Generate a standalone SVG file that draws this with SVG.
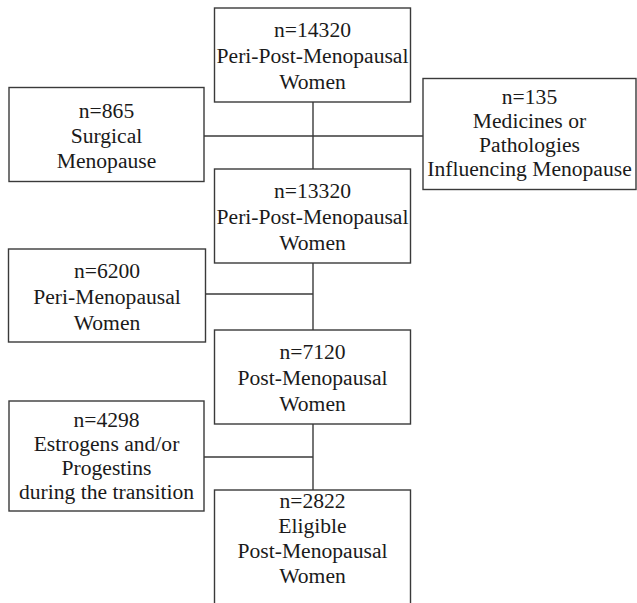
<svg xmlns="http://www.w3.org/2000/svg" width="637" height="603" viewBox="0 0 637 603">
<style>
.box{fill:#fff;stroke:#3a3a3a;stroke-width:1.4}
.t{font-size:21.6px;fill:#1a1a1a;text-anchor:middle}
.ln{stroke:#3a3a3a;stroke-width:1.4;fill:none}
</style>
<rect width="637" height="603" fill="#fff"/>
<g id="connectors">
<line class="ln" x1="313" y1="102" x2="313" y2="169"/>
<line class="ln" x1="204" y1="136" x2="423" y2="136"/>
<line class="ln" x1="313" y1="263" x2="313" y2="330"/>
<line class="ln" x1="206" y1="294" x2="313" y2="294"/>
<line class="ln" x1="313" y1="424" x2="313" y2="490"/>
<line class="ln" x1="204" y1="457" x2="313" y2="457"/>
</g>
<g font-family="Liberation Serif, Times New Roman, DejaVu Serif, serif">
<g id="n14320">
<rect class="box" x="214.5" y="8" width="196" height="94"/>
<text class="t" x="312.5" y="37">n=14320</text>
<text class="t" x="312.5" y="63">Peri-Post-Menopausal</text>
<text class="t" x="312.5" y="89">Women</text>
</g>
<g id="n865">
<rect class="box" x="9" y="87.5" width="195" height="94"/>
<text class="t" x="106.5" y="118">n=865</text>
<text class="t" x="106.5" y="143">Surgical</text>
<text class="t" x="106.5" y="168">Menopause</text>
</g>
<g id="n135">
<rect class="box" x="423" y="78.5" width="213" height="111"/>
<text class="t" x="529.5" y="104">n=135</text>
<text class="t" x="529.5" y="128">Medicines or</text>
<text class="t" x="529.5" y="152">Pathologies</text>
<text class="t" x="529.5" y="176">Influencing Menopause</text>
</g>
<g id="n13320">
<rect class="box" x="214.5" y="169" width="196" height="94"/>
<text class="t" x="312.5" y="198">n=13320</text>
<text class="t" x="312.5" y="224">Peri-Post-Menopausal</text>
<text class="t" x="312.5" y="250">Women</text>
</g>
<g id="n6200">
<rect class="box" x="8.5" y="249" width="197" height="93"/>
<text class="t" x="107" y="278">n=6200</text>
<text class="t" x="107" y="304">Peri-Menopausal</text>
<text class="t" x="107" y="330">Women</text>
</g>
<g id="n7120">
<rect class="box" x="214.5" y="330" width="196" height="94"/>
<text class="t" x="312.5" y="359">n=7120</text>
<text class="t" x="312.5" y="385">Post-Menopausal</text>
<text class="t" x="312.5" y="411">Women</text>
</g>
<g id="n4298">
<rect class="box" x="9" y="401" width="195" height="110"/>
<text class="t" x="106.5" y="427">n=4298</text>
<text class="t" x="106.5" y="451">Estrogens and/or</text>
<text class="t" x="106.5" y="475">Progestins</text>
<text class="t" x="106.5" y="499">during the transition</text>
</g>
<g id="n2822">
<rect class="box" x="214.5" y="490" width="196" height="125"/>
<text class="t" x="312.5" y="508">n=2822</text>
<text class="t" x="312.5" y="533">Eligible</text>
<text class="t" x="312.5" y="558">Post-Menopausal</text>
<text class="t" x="312.5" y="583">Women</text>
</g>
</g>
</svg>
